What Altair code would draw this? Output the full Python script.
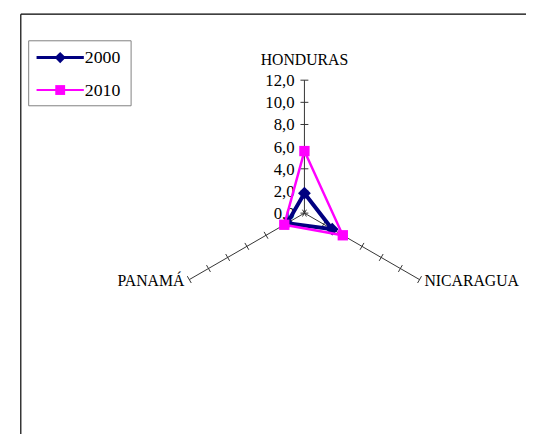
import math
import altair as alt
import pandas as pd

# ---- data ----
categories = ["HONDURAS", "NICARAGUA", "PANAMÁ"]
years = ["2000", "2010"]
values_2000 = [1.8, 2.9, 1.8]
values_2010 = [5.6, 4.0, 2.1]
tick_values = [0, 2, 4, 6, 8, 10, 12]
tick_labels = ["0,0", "2,0", "4,0", "6,0", "8,0", "10,0", "12,0"]
colors = ["#000080", "#FF00FF"]

# ---- layout ----
W, H = 526, 426
CX, CY = 301, 205          # centre of radar in chart px
PPU = 11.25                # px per unit
RMAX = 12
xdom = [(0 - CX) / PPU, (W - CX) / PPU]
ydom = [(CY - H) / PPU, CY / PPU]
FONT = "Liberation Serif"

xs = alt.Scale(domain=xdom, nice=False, zero=False)
ys = alt.Scale(domain=ydom, nice=False, zero=False)

def X(f):
    return alt.X(f, type="quantitative", scale=xs, axis=None)

def Y(f):
    return alt.Y(f, type="quantitative", scale=ys, axis=None)

TH = "datum.i * 2 * PI / 3"

rows = []
for yr, vals in zip(years, [values_2000, values_2010]):
    for k in range(len(categories) + 1):
        i = k % len(categories)
        rows.append({"year": yr, "i": i, "v": vals[i], "order": k})
series = pd.DataFrame(rows)

axes_df = pd.DataFrame({"i": list(range(len(categories))), "cat": categories, "r": RMAX})
ticks_df = pd.DataFrame([{"i": i, "t": t} for i in range(len(categories)) for t in tick_values])
lab_df = pd.DataFrame({"t": tick_values, "lab": tick_labels})

HALF = 4 / PPU

spokes = alt.Chart(axes_df).transform_calculate(
    th=TH, x0="0", y0="0",
    x1=f"datum.r * sin({TH})", y1=f"datum.r * cos({TH})",
).mark_rule(color="#333333", strokeWidth=1).encode(
    x=X("x0"), y=Y("y0"), x2="x1:Q", y2="y1:Q"
)

ticks = alt.Chart(ticks_df).transform_calculate(
    th=TH,
).transform_calculate(
    xa=f"datum.t * sin(datum.th) + {HALF} * cos(datum.th)",
    ya=f"datum.t * cos(datum.th) - {HALF} * sin(datum.th)",
    xb=f"datum.t * sin(datum.th) - {HALF} * cos(datum.th)",
    yb=f"datum.t * cos(datum.th) + {HALF} * sin(datum.th)",
).mark_rule(color="#333333", strokeWidth=1).encode(
    x=X("xa"), y=Y("ya"), x2="xb:Q", y2="yb:Q"
)

tick_text = alt.Chart(lab_df).transform_calculate(x0="0").mark_text(
    font=FONT, fontSize=17, align="right", baseline="middle", dx=-10, dy=1, color="black"
).encode(x=X("x0"), y=Y("t"), text="lab:N")

def cat_label(idx, **kw):
    return alt.Chart(axes_df).transform_filter(f"datum.i == {idx}").transform_calculate(
        th=TH, xe=f"datum.r * sin({TH})", ye=f"datum.r * cos({TH})"
    ).mark_text(font=FONT, fontSize=16, color="black", baseline="middle", **kw).encode(
        x=X("xe"), y=Y("ye"), text="cat:N"
    )

lab_h = cat_label(0, align="center", dy=-20)
lab_n = cat_label(1, align="left", dx=5, dy=1)
lab_p = cat_label(2, align="right", dx=-5, dy=1)

def series_layers(yr, color, width, shape, size):
    base = alt.Chart(series).transform_filter(f"datum.year == '{yr}'").transform_calculate(
        px=f"datum.v * sin({TH})", py=f"datum.v * cos({TH})"
    )
    line = base.mark_line(color=color, strokeWidth=width, strokeJoin="miter").encode(
        x=X("px"), y=Y("py"), order="order:Q"
    )
    pts = base.transform_filter("datum.order < 3").mark_point(
        shape=shape, filled=True, color=color, size=size, opacity=1
    ).encode(x=X("px"), y=Y("py"))
    return [line, pts]

s2000 = series_layers("2000", colors[0], 4, "diamond", 170)
s2010 = series_layers("2010", colors[1], 2.5, "square", 110)

frame_left = alt.Chart(pd.DataFrame({"a": [0]})).mark_rule(color="black", strokeWidth=1.2).encode(
    x=alt.value(13), y=alt.value(3), y2=alt.value(H + 5)
)
frame_top = alt.Chart(pd.DataFrame({"a": [0]})).mark_rule(color="black", strokeWidth=1.2).encode(
    x=alt.value(13), x2=alt.value(W + 5), y=alt.value(3)
)

leg_df = pd.DataFrame({"year": years})
leg_box = alt.Chart(pd.DataFrame({"a": [0]})).mark_rect(
    fill="white", stroke="#808080", strokeWidth=1
).encode(x=alt.value(21), x2=alt.value(125), y=alt.value(30), y2=alt.value(96))

leg_layers = [leg_box]
for k, (yr, color, lw, shape, size) in enumerate(
    [("2000", colors[0], 3, "diamond", 130), ("2010", colors[1], 2, "square", 100)]
):
    d = alt.Chart(leg_df).transform_filter(f"datum.year == '{yr}'")
    yv = [47, 80][k]
    leg_layers.append(d.mark_rule(color=color, strokeWidth=lw).encode(
        x=alt.value(29), x2=alt.value(77), y=alt.value(yv)))
    leg_layers.append(d.mark_point(shape=shape, filled=True, color=color, size=size, opacity=1).encode(
        x=alt.value(53), y=alt.value(yv)))
    leg_layers.append(d.mark_text(font=FONT, fontSize=18, align="left", baseline="middle", color="black").encode(
        x=alt.value(78), y=alt.value(yv + 1), text="year:N"))

chart = alt.layer(
    frame_left, frame_top, spokes, ticks, tick_text, lab_h, lab_n, lab_p,
    *s2000, *s2010, *leg_layers
).properties(
    width=W, height=H, padding=0, autosize=alt.AutoSizeParams(type="none"), background="white"
).configure_view(stroke=None)

chart.save("out.html", embed_options={"renderer": "svg", "actions": False})
